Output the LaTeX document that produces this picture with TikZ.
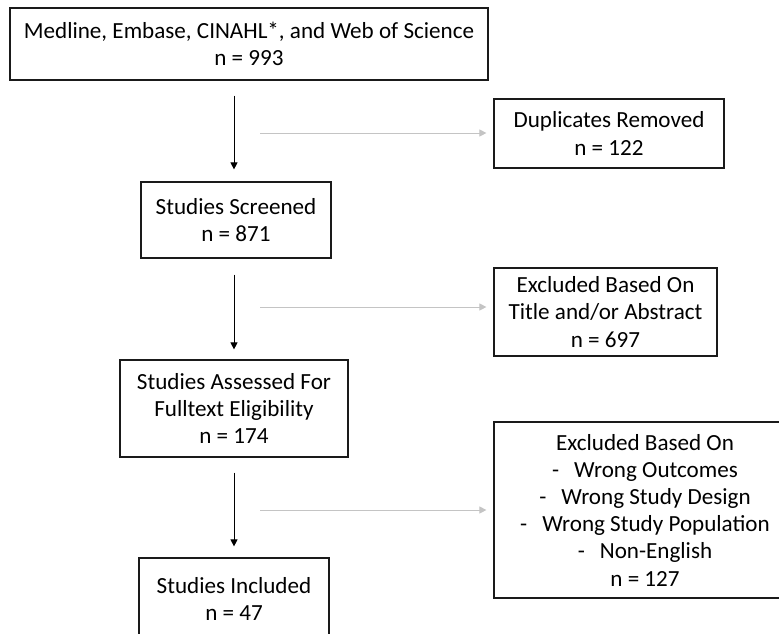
\documentclass[tikz,border=0pt]{standalone}
\usepackage{fontspec}
\setmainfont{Carlito}
\usetikzlibrary{arrows.meta}
\definecolor{boxline}{HTML}{1A1A1A}
\definecolor{grayline}{HTML}{C4C4C4}
\tikzset{
  flowbox/.style={draw=boxline, line width=1.2pt, align=center, inner sep=0pt,
    font=\fontsize{23.1pt}{27.2pt}\selectfont, text=black},
  mainarrow/.style={draw=black, line width=1pt, -{Triangle[width=7pt,length=7pt]}},
  sidearrow/.style={draw=grayline, line width=1pt, -{Triangle[width=7pt,length=7pt,fill=grayline]}}
}
\begin{document}
\begin{tikzpicture}[x=1pt,y=-1pt]
\useasboundingbox (0,0) rectangle (779,633);
\fill[white] (0,0) rectangle (779,633);
\node[flowbox, minimum width=478pt, minimum height=72pt] (src) at (249,44)
  {Medline, Embase, CINAHL*, and Web of Science\\n = 993};
\node[flowbox, minimum width=230pt, minimum height=69pt] (dup) at (609,133.5)
  {Duplicates Removed\\n = 122};
\node[flowbox, minimum width=190pt, minimum height=76pt] (scr) at (236,220)
  {Studies Screened\\n = 871};
\node[flowbox, minimum width=223pt, minimum height=88pt] (exa) at (605.5,312)
  {Excluded Based On\\Title and/or Abstract\\n = 697};
\node[flowbox, minimum width=228pt, minimum height=97pt] (ass) at (234,408.5)
  {Studies Assessed For\\Fulltext Eligibility\\n = 174};
\node[flowbox, minimum width=302pt, minimum height=176pt] (exb) at (645,510)
  {Excluded Based On\\
   -\hspace{15pt}Wrong Outcomes\\
   -\hspace{15pt}Wrong Study Design\\
   -\hspace{15pt}Wrong Study Population\\
   -\hspace{15pt}Non-English\\
   n = 127};
\node[flowbox, minimum width=190pt, minimum height=82pt] (inc) at (234,599)
  {Studies Included\\n = 47};
\coordinate (spine) at (234,0);
\draw[mainarrow, shorten <=15pt, shorten >=12pt] (src.south -| spine) -- (scr.north -| spine);
\draw[mainarrow, shorten <=16pt, shorten >=10pt] (scr.south -| spine) -- (ass.north -| spine);
\draw[mainarrow, shorten <=15pt, shorten >=11pt] (ass.south -| spine) -- (inc.north -| spine);
\coordinate (g1) at (260,133);
\coordinate (g2) at (260,307);
\coordinate (g3) at (260,510);
\draw[sidearrow, shorten >=7pt] (g1) -- (dup.west |- g1);
\draw[sidearrow, shorten >=7pt] (g2) -- (exa.west |- g2);
\draw[sidearrow, shorten >=7pt] (g3) -- (exb.west |- g3);
\end{tikzpicture}
\end{document}
